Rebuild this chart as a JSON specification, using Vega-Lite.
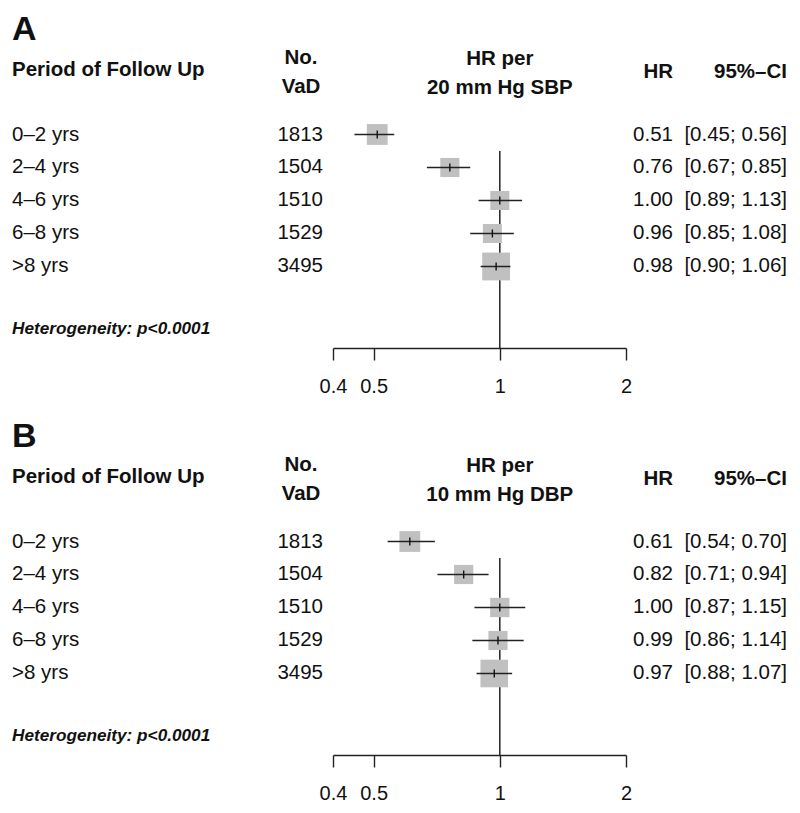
{
  "$schema": "https://vega.github.io/schema/vega-lite/v6.json",
  "padding": 0,
  "config": {
    "view": {"stroke": null},
    "font": "Liberation Sans",
    "text": {"font": "Liberation Sans", "color": "#111111", "baseline": "middle", "fontSize": 20.5},
    "axis": {"grid": false, "domainColor": "#222222", "domainWidth": 1.4, "tickColor": "#222222", "tickWidth": 1.4, "tickSize": 12, "labelFontSize": 20, "labelColor": "#111111", "labelPadding": 16, "labelFont": "Liberation Sans", "labelFlush": false, "labelOverlap": false}
  },
  "datasets": {
    "forest": [
      {"panel": "A", "period": "0–2 yrs", "n": 1813, "hr": 0.51, "lo": 0.45, "hi": 0.56, "ci": "[0.45; 0.56]", "w": 18.8, "row": 1},
      {"panel": "A", "period": "2–4 yrs", "n": 1504, "hr": 0.76, "lo": 0.67, "hi": 0.85, "ci": "[0.67; 0.85]", "w": 15.9, "row": 2},
      {"panel": "A", "period": "4–6 yrs", "n": 1510, "hr": 1.00, "lo": 0.89, "hi": 1.13, "ci": "[0.89; 1.13]", "w": 15.8, "row": 3},
      {"panel": "A", "period": "6–8 yrs", "n": 1529, "hr": 0.96, "lo": 0.85, "hi": 1.08, "ci": "[0.85; 1.08]", "w": 15.7, "row": 4},
      {"panel": "A", "period": ">8 yrs", "n": 3495, "hr": 0.98, "lo": 0.90, "hi": 1.06, "ci": "[0.90; 1.06]", "w": 33.7, "row": 5},
      {"panel": "B", "period": "0–2 yrs", "n": 1813, "hr": 0.61, "lo": 0.54, "hi": 0.70, "ci": "[0.54; 0.70]", "w": 18.8, "row": 1},
      {"panel": "B", "period": "2–4 yrs", "n": 1504, "hr": 0.82, "lo": 0.71, "hi": 0.94, "ci": "[0.71; 0.94]", "w": 16.0, "row": 2},
      {"panel": "B", "period": "4–6 yrs", "n": 1510, "hr": 1.00, "lo": 0.87, "hi": 1.15, "ci": "[0.87; 1.15]", "w": 16.2, "row": 3},
      {"panel": "B", "period": "6–8 yrs", "n": 1529, "hr": 0.99, "lo": 0.86, "hi": 1.14, "ci": "[0.86; 1.14]", "w": 15.9, "row": 4},
      {"panel": "B", "period": ">8 yrs", "n": 3495, "hr": 0.97, "lo": 0.88, "hi": 1.07, "ci": "[0.88; 1.07]", "w": 33.1, "row": 5}
    ]
  },
  "spacing": 59,
  "bounds": "flush",
  "vconcat": [
    {
      "width": 800,
      "height": 348,
      "resolve": {"scale": {"x": "independent"}, "axis": {"x": "independent"}},
      "layer": [
        {
          "layer": [
            {
              "data": {"values": [{}]},
              "mark": {"type": "rule", "color": "#222222", "strokeWidth": 1.5},
              "encoding": {
                "x": {"datum": 1, "type": "quantitative", "scale": {"type": "log", "domain": [0.4, 2], "range": [333, 626], "nice": false}, "axis": {"values": [0.4, 0.5, 1, 2], "format": "~g", "title": null}},
                "y": {"datum": 1.5, "type": "quantitative", "scale": {"domain": [-3.076, 7.47], "reverse": true, "nice": false, "zero": false}, "axis": null},
                "y2": {"datum": 7.47}
              }
            },
            {
              "data": {"name": "forest"},
              "transform": [{"filter": "datum.panel == 'A'"}],
              "layer": [
                {
                  "mark": {"type": "point", "shape": "square", "filled": true, "color": "#c0c0c0", "opacity": 1},
                  "encoding": {
                    "x": {"field": "hr", "type": "quantitative", "scale": {"type": "log", "domain": [0.4, 2], "range": [333, 626], "nice": false}, "axis": {"values": [0.4, 0.5, 1, 2], "format": "~g", "title": null}},
                    "y": {"field": "row", "type": "quantitative", "scale": {"domain": [-3.076, 7.47], "reverse": true, "nice": false, "zero": false}, "axis": null},
                    "size": {"field": "w", "type": "quantitative", "scale": {"domain": [0, 100], "range": [0, 2300]}, "legend": null}
                  }
                },
                {
                  "mark": {"type": "rule", "color": "#222222", "strokeWidth": 1.5},
                  "encoding": {
                    "x": {"field": "lo", "type": "quantitative", "scale": {"type": "log", "domain": [0.4, 2], "range": [333, 626], "nice": false}, "axis": {"values": [0.4, 0.5, 1, 2], "format": "~g", "title": null}},
                    "x2": {"field": "hi"},
                    "y": {"field": "row", "type": "quantitative", "scale": {"domain": [-3.076, 7.47], "reverse": true, "nice": false, "zero": false}, "axis": null}
                  }
                },
                {
                  "mark": {"type": "point", "shape": "M0,-1L0,1", "filled": false, "color": "#111111", "strokeWidth": 1.4, "size": 64, "opacity": 1},
                  "encoding": {
                    "x": {"field": "hr", "type": "quantitative", "scale": {"type": "log", "domain": [0.4, 2], "range": [333, 626], "nice": false}, "axis": {"values": [0.4, 0.5, 1, 2], "format": "~g", "title": null}},
                    "y": {"field": "row", "type": "quantitative", "scale": {"domain": [-3.076, 7.47], "reverse": true, "nice": false, "zero": false}, "axis": null}
                  }
                }
              ]
            },
            {
              "data": {"values": [{}]},
              "mark": {"type": "text", "align": "center", "fontWeight": "bold"},
              "encoding": {
                "x": {"datum": 1, "type": "quantitative", "scale": {"type": "log", "domain": [0.4, 2], "range": [333, 626], "nice": false}, "axis": {"values": [0.4, 0.5, 1, 2], "format": "~g", "title": null}},
                "y": {"datum": -1.29, "type": "quantitative", "scale": {"domain": [-3.076, 7.47], "reverse": true, "nice": false, "zero": false}, "axis": null},
                "text": {"value": "HR per"}
              }
            },
            {
              "data": {"values": [{}]},
              "mark": {"type": "text", "align": "center", "fontWeight": "bold"},
              "encoding": {
                "x": {"datum": 1, "type": "quantitative", "scale": {"type": "log", "domain": [0.4, 2], "range": [333, 626], "nice": false}, "axis": {"values": [0.4, 0.5, 1, 2], "format": "~g", "title": null}},
                "y": {"datum": -0.42, "type": "quantitative", "scale": {"domain": [-3.076, 7.47], "reverse": true, "nice": false, "zero": false}, "axis": null},
                "text": {"value": "20 mm Hg SBP"}
              }
            }
          ]
        },
        {
          "layer": [
            {
              "data": {"name": "forest"},
              "transform": [{"filter": "datum.panel == 'A'"}],
              "layer": [
                {
                  "mark": {"type": "text", "align": "left"},
                  "encoding": {
                    "x": {"datum": 1, "type": "quantitative", "scale": {"domain": [1, 2, 3, 4, 5], "range": [12, 301, 323, 673, 787], "nice": false, "zero": false}, "axis": null},
                    "y": {"field": "row", "type": "quantitative", "scale": {"domain": [-3.076, 7.47], "reverse": true, "nice": false, "zero": false}, "axis": null},
                    "text": {"field": "period"}
                  }
                },
                {
                  "mark": {"type": "text", "align": "right"},
                  "encoding": {
                    "x": {"datum": 3, "type": "quantitative", "axis": null},
                    "y": {"field": "row", "type": "quantitative", "axis": null},
                    "text": {"field": "n"}
                  }
                },
                {
                  "mark": {"type": "text", "align": "right"},
                  "encoding": {
                    "x": {"datum": 4, "type": "quantitative", "axis": null},
                    "y": {"field": "row", "type": "quantitative", "axis": null},
                    "text": {"field": "hr", "format": ".2f"}
                  }
                },
                {
                  "mark": {"type": "text", "align": "right"},
                  "encoding": {
                    "x": {"datum": 5, "type": "quantitative", "axis": null},
                    "y": {"field": "row", "type": "quantitative", "axis": null},
                    "text": {"field": "ci"}
                  }
                }
              ]
            },
            {
              "data": {"values": [{}]},
              "layer": [
                {"mark": {"type": "text", "align": "left", "fontWeight": "bold", "fontSize": 34},
                 "encoding": {"x": {"datum": 1, "type": "quantitative", "axis": null}, "y": {"datum": -2.18, "type": "quantitative", "axis": null}, "text": {"value": "A"}}},
                {"mark": {"type": "text", "align": "left", "fontWeight": "bold"},
                 "encoding": {"x": {"datum": 1, "type": "quantitative", "axis": null}, "y": {"datum": -0.95, "type": "quantitative", "axis": null}, "text": {"value": "Period of Follow Up"}}},
                {"mark": {"type": "text", "align": "center", "fontWeight": "bold"},
                 "encoding": {"x": {"datum": 2, "type": "quantitative", "axis": null}, "y": {"datum": -1.33, "type": "quantitative", "axis": null}, "text": {"value": "No."}}},
                {"mark": {"type": "text", "align": "center", "fontWeight": "bold"},
                 "encoding": {"x": {"datum": 2, "type": "quantitative", "axis": null}, "y": {"datum": -0.43, "type": "quantitative", "axis": null}, "text": {"value": "VaD"}}},
                {"mark": {"type": "text", "align": "right", "fontWeight": "bold"},
                 "encoding": {"x": {"datum": 4, "type": "quantitative", "axis": null}, "y": {"datum": -0.9, "type": "quantitative", "axis": null}, "text": {"value": "HR"}}},
                {"mark": {"type": "text", "align": "right", "fontWeight": "bold"},
                 "encoding": {"x": {"datum": 5, "type": "quantitative", "axis": null}, "y": {"datum": -0.9, "type": "quantitative", "axis": null}, "text": {"value": "95%–CI"}}},
                {"mark": {"type": "text", "align": "left", "fontWeight": "bold", "fontStyle": "italic", "fontSize": 17.2},
                 "encoding": {"x": {"datum": 1, "type": "quantitative", "axis": null}, "y": {"datum": 6.88, "type": "quantitative", "axis": null}, "text": {"value": "Heterogeneity: p<0.0001"}}}
              ]
            }
          ]
        }
      ]
    },
    {
      "width": 800,
      "height": 348,
      "resolve": {"scale": {"x": "independent"}, "axis": {"x": "independent"}},
      "layer": [
        {
          "layer": [
            {
              "data": {"values": [{}]},
              "mark": {"type": "rule", "color": "#222222", "strokeWidth": 1.5},
              "encoding": {
                "x": {"datum": 1, "type": "quantitative", "scale": {"type": "log", "domain": [0.4, 2], "range": [333, 626], "nice": false}, "axis": {"values": [0.4, 0.5, 1, 2], "format": "~g", "title": null}},
                "y": {"datum": 1.5, "type": "quantitative", "scale": {"domain": [-3.076, 7.47], "reverse": true, "nice": false, "zero": false}, "axis": null},
                "y2": {"datum": 7.47}
              }
            },
            {
              "data": {"name": "forest"},
              "transform": [{"filter": "datum.panel == 'B'"}],
              "layer": [
                {
                  "mark": {"type": "point", "shape": "square", "filled": true, "color": "#c0c0c0", "opacity": 1},
                  "encoding": {
                    "x": {"field": "hr", "type": "quantitative", "scale": {"type": "log", "domain": [0.4, 2], "range": [333, 626], "nice": false}, "axis": {"values": [0.4, 0.5, 1, 2], "format": "~g", "title": null}},
                    "y": {"field": "row", "type": "quantitative", "scale": {"domain": [-3.076, 7.47], "reverse": true, "nice": false, "zero": false}, "axis": null},
                    "size": {"field": "w", "type": "quantitative", "scale": {"domain": [0, 100], "range": [0, 2300]}, "legend": null}
                  }
                },
                {
                  "mark": {"type": "rule", "color": "#222222", "strokeWidth": 1.5},
                  "encoding": {
                    "x": {"field": "lo", "type": "quantitative", "scale": {"type": "log", "domain": [0.4, 2], "range": [333, 626], "nice": false}, "axis": {"values": [0.4, 0.5, 1, 2], "format": "~g", "title": null}},
                    "x2": {"field": "hi"},
                    "y": {"field": "row", "type": "quantitative", "scale": {"domain": [-3.076, 7.47], "reverse": true, "nice": false, "zero": false}, "axis": null}
                  }
                },
                {
                  "mark": {"type": "point", "shape": "M0,-1L0,1", "filled": false, "color": "#111111", "strokeWidth": 1.4, "size": 64, "opacity": 1},
                  "encoding": {
                    "x": {"field": "hr", "type": "quantitative", "scale": {"type": "log", "domain": [0.4, 2], "range": [333, 626], "nice": false}, "axis": {"values": [0.4, 0.5, 1, 2], "format": "~g", "title": null}},
                    "y": {"field": "row", "type": "quantitative", "scale": {"domain": [-3.076, 7.47], "reverse": true, "nice": false, "zero": false}, "axis": null}
                  }
                }
              ]
            },
            {
              "data": {"values": [{}]},
              "mark": {"type": "text", "align": "center", "fontWeight": "bold"},
              "encoding": {
                "x": {"datum": 1, "type": "quantitative", "scale": {"type": "log", "domain": [0.4, 2], "range": [333, 626], "nice": false}, "axis": {"values": [0.4, 0.5, 1, 2], "format": "~g", "title": null}},
                "y": {"datum": -1.29, "type": "quantitative", "scale": {"domain": [-3.076, 7.47], "reverse": true, "nice": false, "zero": false}, "axis": null},
                "text": {"value": "HR per"}
              }
            },
            {
              "data": {"values": [{}]},
              "mark": {"type": "text", "align": "center", "fontWeight": "bold"},
              "encoding": {
                "x": {"datum": 1, "type": "quantitative", "scale": {"type": "log", "domain": [0.4, 2], "range": [333, 626], "nice": false}, "axis": {"values": [0.4, 0.5, 1, 2], "format": "~g", "title": null}},
                "y": {"datum": -0.42, "type": "quantitative", "scale": {"domain": [-3.076, 7.47], "reverse": true, "nice": false, "zero": false}, "axis": null},
                "text": {"value": "10 mm Hg DBP"}
              }
            }
          ]
        },
        {
          "layer": [
            {
              "data": {"name": "forest"},
              "transform": [{"filter": "datum.panel == 'B'"}],
              "layer": [
                {
                  "mark": {"type": "text", "align": "left"},
                  "encoding": {
                    "x": {"datum": 1, "type": "quantitative", "scale": {"domain": [1, 2, 3, 4, 5], "range": [12, 301, 323, 673, 787], "nice": false, "zero": false}, "axis": null},
                    "y": {"field": "row", "type": "quantitative", "scale": {"domain": [-3.076, 7.47], "reverse": true, "nice": false, "zero": false}, "axis": null},
                    "text": {"field": "period"}
                  }
                },
                {
                  "mark": {"type": "text", "align": "right"},
                  "encoding": {
                    "x": {"datum": 3, "type": "quantitative", "axis": null},
                    "y": {"field": "row", "type": "quantitative", "axis": null},
                    "text": {"field": "n"}
                  }
                },
                {
                  "mark": {"type": "text", "align": "right"},
                  "encoding": {
                    "x": {"datum": 4, "type": "quantitative", "axis": null},
                    "y": {"field": "row", "type": "quantitative", "axis": null},
                    "text": {"field": "hr", "format": ".2f"}
                  }
                },
                {
                  "mark": {"type": "text", "align": "right"},
                  "encoding": {
                    "x": {"datum": 5, "type": "quantitative", "axis": null},
                    "y": {"field": "row", "type": "quantitative", "axis": null},
                    "text": {"field": "ci"}
                  }
                }
              ]
            },
            {
              "data": {"values": [{}]},
              "layer": [
                {"mark": {"type": "text", "align": "left", "fontWeight": "bold", "fontSize": 34},
                 "encoding": {"x": {"datum": 1, "type": "quantitative", "axis": null}, "y": {"datum": -2.18, "type": "quantitative", "axis": null}, "text": {"value": "B"}}},
                {"mark": {"type": "text", "align": "left", "fontWeight": "bold"},
                 "encoding": {"x": {"datum": 1, "type": "quantitative", "axis": null}, "y": {"datum": -0.95, "type": "quantitative", "axis": null}, "text": {"value": "Period of Follow Up"}}},
                {"mark": {"type": "text", "align": "center", "fontWeight": "bold"},
                 "encoding": {"x": {"datum": 2, "type": "quantitative", "axis": null}, "y": {"datum": -1.33, "type": "quantitative", "axis": null}, "text": {"value": "No."}}},
                {"mark": {"type": "text", "align": "center", "fontWeight": "bold"},
                 "encoding": {"x": {"datum": 2, "type": "quantitative", "axis": null}, "y": {"datum": -0.43, "type": "quantitative", "axis": null}, "text": {"value": "VaD"}}},
                {"mark": {"type": "text", "align": "right", "fontWeight": "bold"},
                 "encoding": {"x": {"datum": 4, "type": "quantitative", "axis": null}, "y": {"datum": -0.9, "type": "quantitative", "axis": null}, "text": {"value": "HR"}}},
                {"mark": {"type": "text", "align": "right", "fontWeight": "bold"},
                 "encoding": {"x": {"datum": 5, "type": "quantitative", "axis": null}, "y": {"datum": -0.9, "type": "quantitative", "axis": null}, "text": {"value": "95%–CI"}}},
                {"mark": {"type": "text", "align": "left", "fontWeight": "bold", "fontStyle": "italic", "fontSize": 17.2},
                 "encoding": {"x": {"datum": 1, "type": "quantitative", "axis": null}, "y": {"datum": 6.88, "type": "quantitative", "axis": null}, "text": {"value": "Heterogeneity: p<0.0001"}}}
              ]
            }
          ]
        }
      ]
    }
  ]
}
